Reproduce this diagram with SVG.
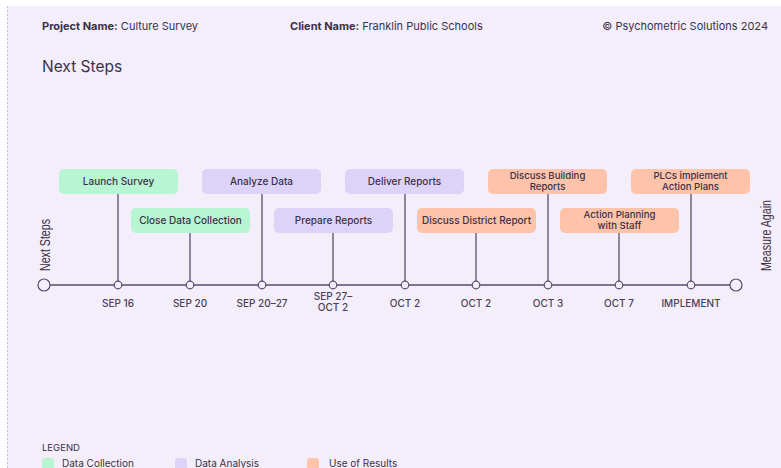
<svg xmlns="http://www.w3.org/2000/svg" width="781" height="468" viewBox="0 0 781 468">
<defs>
<style>
text{font-family:Inter,"Liberation Sans",sans-serif;fill:#3b3148}
.hdr{font-size:11px}
.b{font-weight:700}
.box text{font-size:10px;text-anchor:middle;font-weight:500}
.box text.t2{font-size:9.6px}
.g rect{fill:#b8f5d2}
.p rect{fill:#ddd3f8}
.o rect{fill:#ffc3aa}
.date{font-size:7.8px;font-weight:500;text-anchor:middle;fill:#4a3e58}
.stem{stroke:#5b4d6f;stroke-width:1.3}
.dot{fill:#f3eefa;stroke:#5b4d6f;stroke-width:1.2}
.side{font-family:"Liberation Sans",Arial,sans-serif;font-size:14px;fill:#3b3148}
.lg{font-size:10px}
</style>
</defs>
<rect x="0" y="0" width="781" height="468" fill="#ffffff"/>
<rect x="7" y="6" width="774" height="462" fill="#f3eefa"/>
<line x1="7.5" y1="6" x2="7.5" y2="468" stroke="#c9bedc" stroke-width="1" stroke-dasharray="2,2"/>

<g id="header">
<text class="hdr" x="42" y="30"><tspan class="b">Project Name:</tspan> Culture Survey</text>
<text class="hdr" x="290" y="30"><tspan class="b">Client Name:</tspan> Franklin Public Schools</text>
<text class="hdr" x="768" y="30" text-anchor="end">© Psychometric Solutions 2024</text>
<text x="42" y="72" font-size="15.5">Next Steps</text>
</g>

<g id="connectors">
<line class="stem" x1="50" y1="285" x2="730" y2="285"/>
<line class="stem" x1="118" y1="194" x2="118" y2="281"/>
<line class="stem" x1="190" y1="233" x2="190" y2="281"/>
<line class="stem" x1="262" y1="194" x2="262" y2="281"/>
<line class="stem" x1="333" y1="233" x2="333" y2="281"/>
<line class="stem" x1="405" y1="194" x2="405" y2="281"/>
<line class="stem" x1="476" y1="233" x2="476" y2="281"/>
<line class="stem" x1="548" y1="194" x2="548" y2="281"/>
<line class="stem" x1="619" y1="233" x2="619" y2="281"/>
<line class="stem" x1="691" y1="194" x2="691" y2="281"/>
<circle class="dot" cx="44" cy="285" r="6"/>
<circle class="dot" cx="736" cy="285" r="6"/>
<circle class="dot" cx="118" cy="285" r="3.8"/>
<circle class="dot" cx="190" cy="285" r="3.8"/>
<circle class="dot" cx="262" cy="285" r="3.8"/>
<circle class="dot" cx="333" cy="285" r="3.8"/>
<circle class="dot" cx="405" cy="285" r="3.8"/>
<circle class="dot" cx="476" cy="285" r="3.8"/>
<circle class="dot" cx="548" cy="285" r="3.8"/>
<circle class="dot" cx="619" cy="285" r="3.8"/>
<circle class="dot" cx="691" cy="285" r="3.8"/>
</g>

<g id="start"><text class="side" transform="translate(50,271) rotate(-90) scale(0.76,1)">Next Steps</text></g>
<g id="end"><text class="side" transform="translate(771,271) rotate(-90) scale(0.76,1)">Measure Again</text></g>

<g id="n1" class="box g"><rect x="59" y="169" width="119" height="25" rx="5"/><text x="118.5" y="185">Launch Survey</text><text class="date" x="118" y="307">SEP 16</text></g>
<g id="n2" class="box g"><rect x="131" y="208" width="119" height="25" rx="5"/><text x="190.5" y="224">Close Data Collection</text><text class="date" x="190" y="307">SEP 20</text></g>
<g id="n3" class="box p"><rect x="202" y="169" width="119" height="25" rx="5"/><text x="261.5" y="185">Analyze Data</text><text class="date" x="262" y="307">SEP 20–27</text></g>
<g id="n4" class="box p"><rect x="274" y="208" width="119" height="25" rx="5"/><text x="333.5" y="224">Prepare Reports</text><text class="date" x="333" y="300">SEP 27–</text><text class="date" x="333" y="311">OCT 2</text></g>
<g id="n5" class="box p"><rect x="345" y="169" width="119" height="25" rx="5"/><text x="404.5" y="185">Deliver Reports</text><text class="date" x="405" y="307">OCT 2</text></g>
<g id="n6" class="box o"><rect x="417" y="208" width="119" height="25" rx="5"/><text x="476.5" y="224">Discuss District Report</text><text class="date" x="476" y="307">OCT 2</text></g>
<g id="n7" class="box o"><rect x="488" y="169" width="119" height="25" rx="5"/><text class="t2" x="547.5" y="179">Discuss Building</text><text class="t2" x="547.5" y="190">Reports</text><text class="date" x="548" y="307">OCT 3</text></g>
<g id="n8" class="box o"><rect x="560" y="208" width="119" height="25" rx="5"/><text class="t2" x="619.5" y="218">Action Planning</text><text class="t2" x="619.5" y="229">with Staff</text><text class="date" x="619" y="307">OCT 7</text></g>
<g id="n9" class="box o"><rect x="631" y="169" width="119" height="25" rx="5"/><text class="t2" x="690.5" y="179">PLCs implement</text><text class="t2" x="690.5" y="190">Action Plans</text><text class="date" x="691" y="307">IMPLEMENT</text></g>

<g id="legend">
<text x="42" y="451" font-size="9.5">LEGEND</text>
<rect x="42" y="458" width="12" height="12" rx="3" fill="#b8f5d2"/>
<text class="lg" x="62" y="467">Data Collection</text>
<rect x="175" y="458" width="12" height="12" rx="3" fill="#ddd3f8"/>
<text class="lg" x="195" y="467">Data Analysis</text>
<rect x="307" y="458" width="12" height="12" rx="3" fill="#ffc3aa"/>
<text class="lg" x="329" y="467">Use of Results</text>
</g>
</svg>
